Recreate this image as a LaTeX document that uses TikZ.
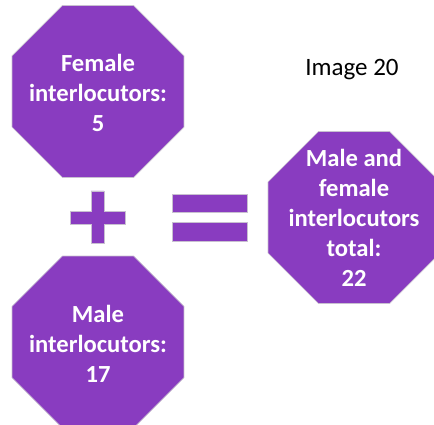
\documentclass[tikz,border=0pt]{standalone}
\usepackage{fontspec}
\setmainfont{Carlito}
\usetikzlibrary{shapes.geometric}
\definecolor{oct}{HTML}{893CC0}
\definecolor{rim}{HTML}{C8C0D0}
\tikzset{
  octa/.style={regular polygon, regular polygon sides=8, minimum size=186pt, inner sep=0pt, fill=oct, draw=rim, line width=0.7pt},
  lbl/.style={text=white, align=center, inner sep=0pt, font=\fontsize{24.6}{30}\selectfont\bfseries},
  bar/.style={fill=oct, draw=rim, line width=0.6pt}
}
\begin{document}
\begin{tikzpicture}[x=1pt, y=-1pt]
\clip (0,0) rectangle (434,425);
\useasboundingbox (0,0) rectangle (434,425);
\node[octa] (f) at (98,91.5) {};
\node[lbl] (ft) at (98,93) {Female\\interlocutors:\\5};
\node[octa] (m) at (98,342) {};
\node[lbl] (mt) at (98,344) {Male\\interlocutors:\\17};
\node[octa] (t) at (354,217.5) {};
\node[lbl] (tt) at (354,218) {Male and\\female\\interlocutors\\total:\\22};
\node[anchor=base, inner sep=0pt, font=\fontsize{25}{30}\selectfont] (img) at (352,76) {Image 20};
% plus sign
\path[bar] (91,191) -- (104,191) -- (104,211) -- (125,211) -- (125,224) -- (104,224) -- (104,243) -- (91,243) -- (91,224) -- (70,224) -- (70,211) -- (91,211) -- cycle;
% equals sign
\path[bar] (172,194) rectangle (247,212);
\path[bar] (172,222) rectangle (247,241);
\end{tikzpicture}
\end{document}
